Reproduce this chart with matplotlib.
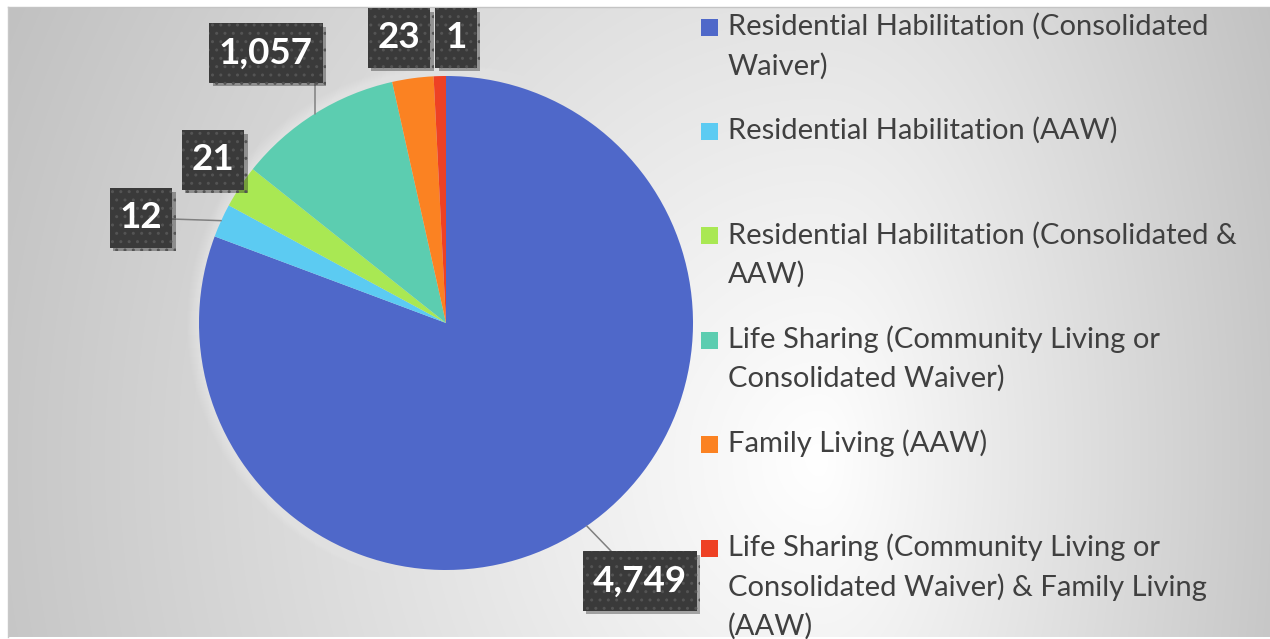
import numpy as np
import matplotlib.pyplot as plt
from matplotlib.patches import Rectangle, Circle
from matplotlib.path import Path
import matplotlib.patheffects as pe

W, H = 1270, 639

categories = [
    "Residential Habilitation (Consolidated\nWaiver)",
    "Residential Habilitation (AAW)",
    "Residential Habilitation (Consolidated &\nAAW)",
    "Life Sharing (Community Living or\nConsolidated Waiver)",
    "Family Living (AAW)",
    "Life Sharing (Community Living or\nConsolidated Waiver) & Family Living\n(AAW)",
]
# numbers printed in the data labels
counts = [4749, 12, 21, 1057, 23, 1]
# slice sizes as they are drawn in the picture (percent of the circle)
shares = [80.7, 2.2, 2.8, 10.8, 2.7, 0.8]
colors = ["#4f68c9", "#5ccbf2", "#a9e853", "#5ccdb0", "#fb8222", "#ee4124"]

# layout (pixels, measured from the top-left corner)
cx, cy, R = 446, 323, 247
label_pos = [(640, 581), (141, 218), (213, 160), (266, 53), (399, 38), (456, 38)]
leader = ["arc3", "arc3", None, "angle,angleA=0,angleB=90", None, None]


def label_box(x0, y0, width, height, mutation_size):
    # square box, a bit more padding top/bottom than left/right
    px, py = 0.27 * mutation_size, 0.36 * mutation_size
    x0, y0 = x0 - px, y0 - py
    x1, y1 = x0 + width + 2 * px, y0 + height + 2 * py
    return Path([(x0, y0), (x1, y0), (x1, y1), (x0, y1), (x0, y0)], closed=True)


fig = plt.figure(figsize=(W / 100, H / 100), dpi=100)
ax = fig.add_axes([0, 0, 1, 1])

# chart area background: light radial gradient
x0, x1, y0, y1 = 8, W, 7, 637
xs = np.arange(x0, x1) + 0.5
ys = np.arange(y0, y1) + 0.5
X, Y = np.meshgrid(xs, ys)
dx = (X - 820) / np.where(X < 820, 800.0, 450.0)
dy = (Y - 460) / 900.0
g = np.clip(1 - 0.215 * np.hypot(dx, dy), 0.72, 1.0)
img = np.dstack([g, g, g])
ax.imshow(img, extent=(x0, x1, H - y1, H - y0), origin="upper", zorder=0, aspect="auto",
          interpolation="bilinear")
ax.plot([x0, x1], [H - y0, H - y0], color="#c4c4c4", lw=1, zorder=1)
ax.plot([x0, x0], [H - y0, H - y1], color="#c8c8c8", lw=1, zorder=1)

# soft light halo around the pie
for k in range(12):
    ax.add_patch(Circle((cx, H - cy), R + 1 + k, color="white", alpha=0.03, lw=0, zorder=1))

wedges, _ = ax.pie(shares, colors=colors, startangle=90, counterclock=False,
                   center=(cx, H - cy), radius=R, wedgeprops=dict(linewidth=0))
for w in wedges:
    w.set_zorder(2)

# data labels
for w, v, (lx, ly), conn in zip(wedges, counts, label_pos, leader):
    mid = np.deg2rad((w.theta1 + w.theta2) / 2)
    ex, ey = cx + R * np.cos(mid), H - cy + R * np.sin(mid)
    arrow = None
    if conn:
        arrow = dict(arrowstyle="-", color="#808080", lw=1.1, shrinkA=0, shrinkB=0,
                     connectionstyle=conn)
    ax.annotate(f"{v:,}", xy=(ex, ey), xytext=(lx, H - ly), ha="center", va="center",
                fontsize=26.5, fontweight="bold", color="white", family=["Lato", "DejaVu Sans"],
                zorder=5, arrowprops=arrow,
                bbox=dict(boxstyle=label_box, fc="#3a3a3a", ec="#545454", lw=0,
                          hatch="..",
                          path_effects=[pe.SimplePatchShadow(offset=(2.5, -2.5), alpha=0.35),
                                        pe.Normal()]))

# legend
for i, (lab, col) in enumerate(zip(categories, colors)):
    base = 35 + i * 104.2
    ax.add_patch(Rectangle((701, H - base - 1), 17, 17, color=col, lw=0, zorder=3))
    for j, line in enumerate(lab.split("\n")):
        ax.text(728, H - (base + j * 39.6), line, ha="left", va="baseline", fontsize=21,
                color="#404040", family=["Lato", "DejaVu Sans"], zorder=3)

ax.set_xlim(0, W)
ax.set_ylim(0, H)
ax.set_aspect("auto")
ax.axis("off")

fig.savefig("out.png", dpi=100, facecolor="white")
